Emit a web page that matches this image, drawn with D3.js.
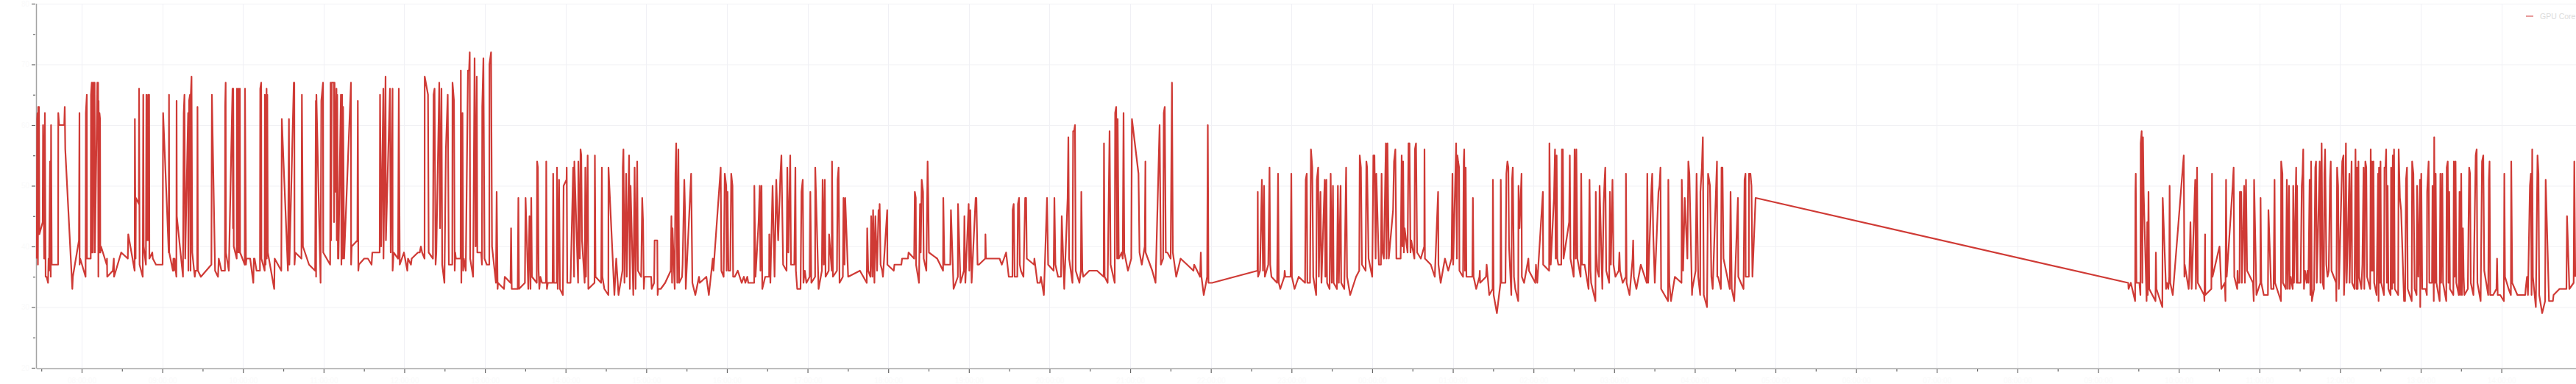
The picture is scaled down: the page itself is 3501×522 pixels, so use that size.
<!DOCTYPE html>
<html><head><meta charset="utf-8">
<script src="https://cdn.jsdelivr.net/npm/d3@7/dist/d3.min.js"></script>
<style>html,body{margin:0;padding:0;background:#fff}svg{display:block;font-family:"Liberation Sans",Arial,sans-serif}</style>
</head><body><svg id="c" width="3501" height="522"></svg>
<script>
const seriesName = "GPU Core";
const yMajorTicks = [20,30,40,50,60,70,80];
const yMinorTicks = [25,35,45,55,65,75];
const xTickLabels = ["08:00:00","09:00:00","10:00:00","11:00:00","12:00:00","13:00:00","14:00:00","15:00:00","16:00:00","17:00:00","18:00:00","19:00:00","20:00:00","21:00:00","22:00:00","23:00:00","00:00:00","01:00:00","02:00:00","03:00:00","04:00:00","05:00:00","06:00:00","07:00:00","08:00:00","09:00:00","10:00:00","11:00:00","12:00:00","13:00:00","14:00:00"];
const sectionA = [[50,38],[50.5,61],[51,62],[51.5,37],[52,63],[53,63],[53.5,42],[58,44],[58.5,60],[60,38],[61,62],[62,35],[63.3,35],[65.3,34],[66,38],[66.7,36],[68,54],[69,35],[69.4,60],[70.3,37],[79,37],[79.2,62],[80.3,60],[87.3,60],[88,63],[88.7,56],[98.3,33],[99,35],[107.3,41],[108,62],[108.2,37],[109,38],[116.3,35],[116.7,62],[118,65],[118.2,38],[123.3,38],[123.7,65],[124.7,67],[124.9,39],[126,67],[126.3,39],[127.7,67],[128.6,67],[129,39],[132.3,67],[133.3,67],[133.7,35],[134,64],[135,39],[135.2,62],[136,61],[136.3,39],[137.3,40],[145,37],[145.4,38],[145.7,35],[153.3,36],[154.7,38],[155,35],[164.7,39],[173.7,38],[174.3,42],[183,36],[183.3,61],[184.3,38],[184.7,48],[188.7,47],[189,66],[189.7,37],[194,35],[194.7,65],[195.3,40],[198.3,37],[199,65],[200,41],[201.3,65],[201.8,41],[202.7,65],[203,38],[207,39],[207.7,38],[212,37],[221,37],[221.7,62],[226.7,47],[229.3,39],[229.7,65],[230,39],[235,36],[235.7,38],[236.5,36],[237.3,38],[239.7,35],[240,64],[240.3,45],[248.7,35],[249.7,62],[250.7,65],[251.7,38],[255.7,62],[256,36],[257,64],[258.3,65],[259,36],[259.3,65],[260.3,68],[261.3,39],[264.7,35],[265.7,36],[268,36],[268.4,63],[269,36],[273,35],[287.3,37],[288,65],[292.3,36],[296.3,35],[297.3,38],[301,36],[305.7,36],[306,63],[306.7,67],[307,39],[311,36],[316,66],[316.7,43],[317,66],[317.7,40],[321.7,38],[322,66],[323,39],[324,66],[325,39],[326,66],[326.3,39],[332.7,37],[333,66],[334.3,37],[335,38],[340,38],[344.3,34],[345,38],[346,38],[348.7,36],[353.3,36],[353.7,66],[355,67],[355.3,38],[359.7,36],[360,65],[361,37],[362.3,66],[362.6,38],[363.3,65],[364,39],[372.7,33],[373.3,38],[382.3,36],[383,61],[391.3,36],[392.7,61],[393.3,37],[399.3,67],[400,67],[400.3,37],[401.3,39],[409.7,38],[410.3,65],[411.7,40],[420,37],[428.3,36],[429.3,64],[429.6,35],[430,65],[435.7,34],[436.7,64],[439,67],[439.3,39],[448.7,37],[449.3,67],[450,41],[450.7,67],[453.7,67],[454,44],[454.7,67],[455.7,49],[457.3,66],[457.7,41],[458.3,65],[459.3,38],[460,38],[463.3,65],[464,37],[465,65],[465.7,38],[466.3,63],[467.7,38],[477,67],[477.2,37],[478,40],[485.7,41],[486.3,64],[487,36],[487.7,37],[495,38]];
const sectionB = [[500,38],[505,37],[506,39],[516,39],[516.5,65],[518,40],[521,66],[521.2,38],[524,68],[524.5,41],[530,66],[531,39],[533.5,66],[533.6,36],[535,39],[541,38],[542,66],[543.3,37],[549,39],[553.6,36],[554.5,38],[558.5,37],[559.5,38],[568,39],[570.5,39],[572,40],[573.7,39],[577,38],[577.2,68],[581.7,65],[582.6,39],[588.4,38],[589.3,65],[590.6,66],[592,37],[593,39],[597,67],[598,43],[600,66],[601,37],[602,36],[604,34],[606,56],[608.5,65],[610,37],[614.7,37],[615,67],[617,64],[618,36],[618.7,39],[619.6,38],[626,38],[626.3,69],[627,34],[628.6,62],[629.5,36],[630.4,38],[633,36],[636,69],[637.5,69],[638.4,72],[639,38],[643,35],[645,71],[646.4,40],[648,68],[648.7,39],[654,39],[655,37],[655.4,63],[657,71],[658.5,38],[661.6,37],[665,37],[665.2,70],[667.4,72],[668.7,40],[674,34],[675,49],[676.3,33],[676.8,34],[685,33],[686,35],[693.8,34],[694.6,43],[695.5,33],[703.6,33],[704.5,48],[705.4,33],[713.4,34],[714.3,48],[718,33],[719.6,45],[721,33],[722,48],[723,35],[729.5,34],[730,54],[731,53],[732,36],[733,33],[734.4,35],[736.6,34],[742,34],[742.4,54],[743.3,33],[744.6,34],[751,34],[751.8,52],[752.7,34],[756.7,34],[757,53],[758,33],[759.8,51],[761,33],[765,32],[766,50],[770,51],[770.2,53],[771,34],[775.4,34],[779,53],[780.2,35],[780.6,54],[785.7,34],[786,54],[788,38],[789,56],[790,55],[791,41],[794.6,34],[795.5,53],[796.4,35],[798.7,55],[799.6,33],[808,34],[808.5,55],[809.4,35],[817,34],[818,53],[818.7,35],[821.4,33],[826.8,32],[827,53],[835,32],[837.5,38],[840.6,32],[846,36],[846.4,53],[847.3,56],[848.7,34],[851,52],[851.8,35],[855,55],[856,33],[857,50],[860.7,32],[862.5,53],[863.8,33],[866,54],[867,36],[871.4,35],[872.8,48],[874,44],[875,33],[876,35],[885,35],[885.7,33],[889,34],[889.7,41],[893.3,41],[893.8,32],[894.6,33],[898,33],[904,34],[911.6,36],[912.5,45],[913.4,34],[914,43],[917,33],[918,52],[919,57],[920.5,34],[922,56],[923,34],[927,35],[927.7,37],[930,51],[931,46],[932,33],[939.3,52],[941,34],[945,32],[950,35],[951,34],[960,35],[963.4,32],[968.7,38],[969.6,36],[979.5,53],[980.4,36],[983.5,35],[985,52],[987,50],[987.5,36],[988.8,49],[990,36],[992.5,36],[993.8,52],[995.5,50],[996.4,35],[998.6,35],[1002.7,36],[1008,34],[1011,35],[1013,34],[1015.6,35],[1017,34],[1025,34],[1025.2,50],[1026.8,35],[1031,44],[1032.6,50],[1033.5,36],[1035,50],[1036,33],[1040,35],[1045.3,35],[1045.5,42],[1047,34],[1050,50],[1052.7,35],[1055,51],[1057.6,41],[1060.7,52],[1062,55],[1064.3,37],[1069,36],[1070,53],[1071.4,39],[1074,55],[1075,37],[1079.5,37],[1081,53],[1081.7,36],[1083.5,33],[1088,33],[1089.3,49],[1091,51],[1092,34],[1093.8,36],[1096,34],[1100.4,35],[1101.3,49],[1102.7,34],[1107.8,35],[1108,53],[1112.5,33],[1117,36],[1118,51],[1119.6,37],[1121,51],[1122,35],[1126.3,36],[1126.8,42],[1130.4,36],[1130.8,54],[1132,35],[1137.5,36],[1138.4,51],[1139.7,53],[1141,34],[1145.5,35],[1146.4,48],[1147.8,37],[1148.7,48],[1152.7,35],[1168.7,36],[1178,34],[1178.6,43],[1180,36],[1183,35],[1184,45],[1185.7,35],[1186.6,46],[1188.4,34],[1189.7,45],[1192,36],[1194,46],[1195,45],[1195.5,47],[1196.8,37],[1199,36]];
const sectionC = [[1200,35],[1205.8,46],[1206,37],[1214.7,36],[1215.6,37],[1225,37],[1226,38],[1234,38],[1234.8,39],[1242.4,38],[1243.3,49],[1244.6,48],[1245,37],[1249,34],[1250.4,47],[1251.3,39],[1252.7,51],[1254.5,49],[1255.4,38],[1259,36],[1260.7,54],[1261.6,48],[1262.5,39],[1273.7,38],[1281.7,36],[1282,48],[1283.5,37],[1291.5,37],[1292.4,46],[1296,33],[1301.8,35],[1302,47],[1305.4,34],[1310,36],[1310.7,45],[1312,34],[1316.5,47],[1317.4,36],[1318.7,46],[1320.5,34],[1326,48],[1327,48],[1328.6,37],[1330.4,37],[1339,38],[1339.3,42],[1340,38],[1358.5,38],[1361.6,37],[1367.4,39],[1371,35],[1376,35],[1376.3,46],[1377.7,47],[1379,35],[1382.6,35],[1383.5,47],[1385,48],[1386,37],[1387.5,36],[1391,35],[1393.3,48],[1394.6,48],[1395.5,38],[1405.4,37],[1405.8,38],[1410,34],[1413.4,34],[1414.7,35],[1418.7,32],[1423,48],[1424.5,37],[1432,36],[1433,48],[1434.4,37],[1438,35],[1442,35],[1443,45],[1446.4,33],[1451,48],[1452,58],[1453,38],[1457.6,34],[1458.5,59],[1459.8,59],[1461,60],[1462,36],[1467,34],[1469,36],[1469.6,49],[1471,36],[1472.3,35],[1480.4,36],[1491,36],[1500,35],[1500.4,57],[1501.3,35],[1505.4,34],[1508,59],[1509.4,37],[1515,34],[1515.6,62],[1517,63],[1518.3,38],[1519,61],[1520.5,38],[1524.5,39],[1525.9,38],[1527,62],[1528,39],[1533,36],[1537.5,38],[1538.4,61],[1547.3,52],[1548.7,39],[1551.8,37],[1555.8,40],[1556.7,54],[1557,39],[1566,36],[1570.5,34],[1576,60],[1577.7,37],[1580.8,38],[1581.7,62],[1583,63],[1584.4,39],[1586.6,39],[1591,38],[1592.8,67],[1594,39],[1598.6,35],[1604.5,38],[1613.4,37],[1622,36],[1623,37],[1631,35],[1632,39],[1632.9,35],[1636,32],[1640.6,35],[1641.5,60],[1642.4,34],[1647.3,34],[1709,36],[1709.4,49],[1709.8,35],[1712.5,36],[1715,51],[1716.5,36],[1718,50],[1719,35],[1723.7,37],[1725.4,53],[1726.3,37],[1728,35],[1735.7,34],[1737,52],[1738,34],[1740,33],[1745.5,35],[1746,36],[1746.9,35],[1754,35],[1755,52],[1755.8,35],[1759.4,33],[1765,35],[1773.7,34],[1774.6,51],[1776,52],[1776.8,34],[1780.4,34],[1781.7,56],[1783.5,53],[1784.8,35],[1788.8,32],[1789.7,51],[1791.5,53],[1792.4,35],[1794.6,49],[1796,34],[1800.4,51],[1801.3,35],[1802.7,51],[1803.6,34],[1807,33],[1808.5,52],[1810,34],[1811.6,50],[1812.5,34],[1817,33],[1818.3,50],[1819.6,34],[1822,50],[1822.8,34],[1827,33],[1829.5,53],[1830.8,35],[1835,32],[1843,35],[1847.3,36],[1848,55],[1849.6,53],[1851,37],[1856,36],[1857,54],[1858,53],[1860,38],[1865,35],[1866.5,55],[1868,55],[1869.6,38],[1870.5,52],[1874,37],[1876.8,37],[1877.7,52],[1879,39],[1880.8,38],[1883.5,57],[1884.4,38],[1885.7,57],[1887.5,38],[1893.3,46],[1894.6,54],[1896.4,56],[1897.8,38]];
const sectionD = [[1900,38],[1903.6,38],[1905,55],[1906,40],[1907,54],[1908,39],[1909,43],[1913,39],[1914.3,57],[1915.6,57],[1917,39],[1918,41],[1922.3,38],[1923,56],[1924.5,57],[1926,39],[1931,38],[1935.7,40],[1936,56],[1936.6,38],[1944.6,37],[1950,35],[1954.5,49],[1955,37],[1958,34],[1963.8,38],[1968.3,36],[1972.8,38],[1974,52],[1975,37],[1979,57],[1980,38],[1980.8,55],[1981.7,54],[1983,53],[1983.5,36],[1988.4,35],[1989.3,54],[1990,56],[1991,36],[1992,53],[1993,35],[2001,35],[2001.8,48],[2002.7,35],[2006.3,33],[2010.7,35],[2011.2,36],[2011.6,34],[2019.6,35],[2020.5,37],[2024,32],[2028.6,33],[2029,51],[2030,32],[2034.4,29],[2039.3,34],[2039.7,51],[2040.6,34],[2046,34],[2047.3,52],[2048.7,54],[2050,53],[2050.9,40],[2054,32],[2055,51],[2056,53],[2057.6,35],[2059.4,33],[2063.4,31],[2063.8,50],[2065.2,43],[2067.9,52],[2068.3,35],[2071.4,34],[2077.2,38],[2078,36],[2086.6,34],[2087.5,37],[2089.3,34],[2096.9,49],[2097.3,37],[2105.4,36],[2105.8,57],[2107.6,37],[2112,48],[2113.4,56],[2114.3,38],[2115.6,55],[2116.5,38],[2117.9,37],[2121.9,37],[2122.8,56],[2124,56],[2125,38],[2132.6,44],[2133.5,55],[2134.4,38],[2138.8,35],[2140,56],[2141.5,38],[2142.4,56],[2143.8,38],[2148.2,35],[2149,52],[2150,37],[2153.6,37],[2159,33],[2160.3,51],[2161.6,36],[2162.5,34],[2168.3,31],[2168.8,49],[2169.6,39],[2171,36],[2173.2,35],[2174,50],[2177.7,33],[2179.5,47],[2180.8,51],[2181.7,53],[2183,36],[2187,34],[2188,49],[2189.3,37],[2191.5,51],[2192.9,37],[2195.5,35],[2200,36],[2200.9,39],[2201.8,36],[2205.4,34],[2209.6,35],[2209.8,52],[2210.7,34],[2214.7,32],[2218.8,38],[2219.6,41],[2220.5,35],[2224,33],[2230,37],[2238,34],[2238.8,52],[2240,34],[2244.6,50],[2245.5,52],[2246.9,42],[2249,34],[2254,49],[2255.4,50],[2256.7,53],[2257.6,33],[2267,31],[2267.4,51],[2268.8,34],[2271,31],[2276.3,35],[2285.3,34],[2285.7,51],[2287.5,36],[2289.7,48],[2293.3,38],[2294.6,54],[2296,52],[2299.6,32],[2300,33],[2304.5,36],[2305.8,52],[2308,35],[2310.7,32],[2311,49],[2313,53],[2314.3,58],[2315.6,32],[2320,30],[2321.4,52],[2322.8,51],[2324,50],[2325.9,35],[2327.7,33],[2333.5,54],[2333.9,35],[2335,35],[2338.8,33],[2339.7,53],[2341,53],[2342.4,38],[2350.9,33],[2352,49],[2353.6,33],[2357,31],[2362,48],[2362.5,35],[2369.6,33],[2371,51],[2372.3,52],[2372.5,35],[2376.8,35],[2377,52],[2379,52],[2380.4,50],[2381.7,35],[2386,48]];
const sectionE = [[2892.4,34],[2892.9,33],[2896,34],[2901.8,31],[2902.2,49],[2902.7,52],[2903.6,34],[2907.6,34],[2909,32],[2909.4,57],[2910.7,59],[2911.6,34],[2912.5,58],[2913.4,49],[2917.4,31],[2918.3,44],[2919,32],[2920,49],[2921,33],[2929.5,31],[2930,39],[2930.8,33],[2938.8,30],[2939.3,48],[2943.8,33],[2945,34],[2946.9,33],[2948.2,35],[2948.7,50],[2949.6,34],[2953,32],[2967.9,55],[2968.8,35],[2969.2,37],[2974.6,33],[2975.4,35],[2977,44],[2978.6,33],[2983.5,51],[2984.4,33],[2986,53],[2987,34],[2995.5,32],[2996,31],[2996.9,42],[2997.2,32],[3005.4,33],[3006.3,52],[3007,35],[3016.5,40],[3019,33],[3023.7,34],[3024.6,31],[3025.4,51],[3026.3,35],[3034.4,50],[3035.7,53],[3036.6,35],[3040.6,33],[3041,36],[3041.5,34],[3043.7,34],[3044.2,49],[3046,49],[3046.9,34],[3050,50],[3051,34],[3052.5,51],[3054,36],[3062,34],[3063,31],[3063.5,51],[3066.7,32],[3072,34],[3072.3,48],[3073.3,34],[3076.7,32],[3082.3,32],[3083,46],[3086.7,33],[3090,33],[3091.3,51],[3092,34],[3100,31],[3100.3,54],[3102,52],[3102.7,34],[3106.7,33],[3108,51],[3109.3,33],[3111,50],[3112,33],[3113.3,35],[3116,33],[3116.7,50],[3117.7,34],[3120.7,53],[3121.3,34],[3122,50],[3122.7,34],[3126.7,34],[3128.3,50],[3129.3,52],[3130.3,56],[3131.3,33],[3132.7,36],[3135,34],[3136,36],[3137.3,34],[3139,51],[3140,32],[3141,54],[3142,31],[3145,33],[3146.7,53],[3147.7,54],[3148.7,34],[3152.7,54],[3153.7,34],[3155.3,57],[3156.7,34],[3158.3,33],[3159,52],[3160,56],[3161.7,37],[3163.3,35],[3165,36],[3166.7,51],[3167.7,54],[3168.7,36],[3175,34],[3175.3,31],[3176.3,53],[3177.7,50],[3178.7,33],[3183.3,54],[3185,55],[3185.7,32],[3186.7,36],[3188.3,57],[3189.3,34],[3193,52],[3193.3,34],[3196,54],[3196.7,34],[3200,33],[3201.3,56],[3202.7,33],[3203.3,53],[3204.3,33],[3205.3,54],[3206.3,35],[3209.3,33],[3210.7,37],[3212.3,53],[3213.3,33],[3214.7,54],[3216,53],[3217,35],[3221.3,33],[3222,56],[3223.3,36],[3223.7,54],[3224.7,36],[3225.7,54],[3226.7,34],[3230,32],[3232,52],[3232.7,31],[3233.3,53],[3234.3,34],[3235.3,54],[3236.3,34],[3240,32],[3240.7,53],[3242,53],[3243,56],[3244,34],[3245,50],[3246,33],[3249,32],[3249.7,53],[3251,33],[3252,55],[3252.7,34],[3253.7,56],[3254.7,33],[3259.3,32],[3260,56],[3261.7,48],[3263.3,46],[3267.3,31],[3268.7,31],[3270,51],[3271.3,53],[3272.3,33],[3277.7,31],[3278.3,54],[3280,52],[3281.7,33],[3284.3,32],[3285,50],[3286.7,35],[3289,51],[3289.3,30],[3290.7,52],[3292,33],[3296.7,33],[3298.3,32],[3298.7,49],[3300.7,54],[3301.7,34],[3305.3,34],[3306,50],[3307.7,31],[3308.3,58],[3309.3,34],[3310.3,52],[3311.3,34],[3315.7,31],[3316.7,52],[3317.7,34],[3319.3,52],[3320.3,34],[3324.7,31],[3325.3,53],[3326.7,54],[3327.7,34],[3328.7,49],[3329.7,33],[3334.3,32],[3335,54],[3336,35],[3337.3,54],[3338.3,34],[3341.7,32],[3342.7,49],[3343.7,32],[3345,52],[3346,32],[3347.3,43],[3348.3,35],[3349.3,32],[3354,33],[3355.8,53],[3357,52],[3358,34],[3361.6,32],[3364.7,55],[3366,56],[3367,34],[3371.4,31],[3373.3,54],[3375,55],[3376.3,36],[3381.7,32],[3382.6,51],[3383.5,54],[3384.4,32],[3388.4,32],[3392.9,33],[3393.7,38],[3394.6,32],[3398,32],[3403,31],[3403.6,52],[3404.5,35],[3409.4,33],[3412.5,32],[3413,54],[3414.3,34],[3421.4,32],[3432,32],[3432.6,33],[3434.4,35],[3435.7,32],[3438.4,50],[3439.7,52],[3440.6,32],[3441.5,56],[3442.4,35],[3446.4,30],[3448.7,55],[3450,52],[3451,32],[3455,29],[3459,31],[3459.8,51],[3464.3,31],[3469.6,31],[3470.5,32],[3478.6,33],[3488,33],[3488.8,45],[3492,33],[3497.8,34],[3498.7,54],[3500,35]];

const svg = d3.select("#c");
const points = [].concat(sectionA, sectionB, sectionC, sectionD, sectionE);
const x = d3.scaleLinear().domain([49,3501]).range([49,3501]);
const y = d3.scaleLinear().domain([20,80]).range([500,5]);
const xStep = 109.62, xFirst = 111;
const xMajor = xTickLabels.map((_, i) => xFirst + i * xStep);
const xMinor = xTickLabels.map((_, i) => xFirst - xStep / 2 + i * xStep);

// grid
const grid = svg.append("g");
grid.selectAll(".gy").data(yMajorTicks.slice(1)).join("line")
  .attr("x1",50).attr("x2",3501).attr("y1",d=>y(d)+.5).attr("y2",d=>y(d)+.5)
  .attr("stroke","#f1f1f4").attr("stroke-width",1);
grid.selectAll(".gx").data(xMajor).join("line")
  .attr("x1",d=>Math.round(x(d))+.5).attr("x2",d=>Math.round(x(d))+.5).attr("y1",5).attr("y2",501)
  .attr("stroke","#f0f0f5").attr("stroke-width",1);

// axes
const yAxis = d3.axisLeft(y).tickValues(yMajorTicks).tickSize(5).tickPadding(3).tickFormat(d=>d);
const yMinor = d3.axisLeft(y).tickValues(yMinorTicks).tickSize(3).tickFormat("");
const xAxis = d3.axisBottom(x).tickValues(xMajor).tickSize(5).tickPadding(7).tickFormat((d,i)=>xTickLabels[i]);
const xMin = d3.axisBottom(x).tickValues(xMinor).tickSize(3).tickFormat("");
function style(g){
  g.select(".domain").remove();
  g.selectAll("line").attr("stroke","#666").attr("stroke-width",1.2);
  g.selectAll("text").attr("fill","#fafafa").attr("font-size",10);
}
svg.append("g").attr("transform","translate(48,0)").call(yAxis).call(style);
svg.append("g").attr("transform","translate(48,0)").call(yMinor).call(style);
svg.append("g").attr("transform","translate(0,502)").call(xAxis).call(style);
svg.append("g").attr("transform","translate(0,502)").call(xMin).call(style);
svg.append("line").attr("x1",49.5).attr("x2",49.5).attr("y1",5).attr("y2",501).attr("stroke","#a3a3a3").attr("stroke-width",1.5);
svg.append("line").attr("x1",50).attr("x2",3501).attr("y1",501.2).attr("y2",501.2).attr("stroke","#a3a3a3").attr("stroke-width",1.5);

// series
const line = d3.line().x(d=>x(d[0])).y(d=>y(d[1]));
svg.append("path").datum(points).attr("d",line).attr("fill","none")
  .attr("stroke","#cf3a35").attr("stroke-width",2.2).attr("stroke-linejoin","round");

// legend
svg.append("line").attr("x1",3433).attr("x2",3443).attr("y1",22).attr("y2",22).attr("stroke","#e89a9a").attr("stroke-width",2);
svg.append("text").attr("x",3452).attr("y",26).attr("font-size",10.5).attr("fill","#dcdcdc").text(seriesName);
</script></body></html>
